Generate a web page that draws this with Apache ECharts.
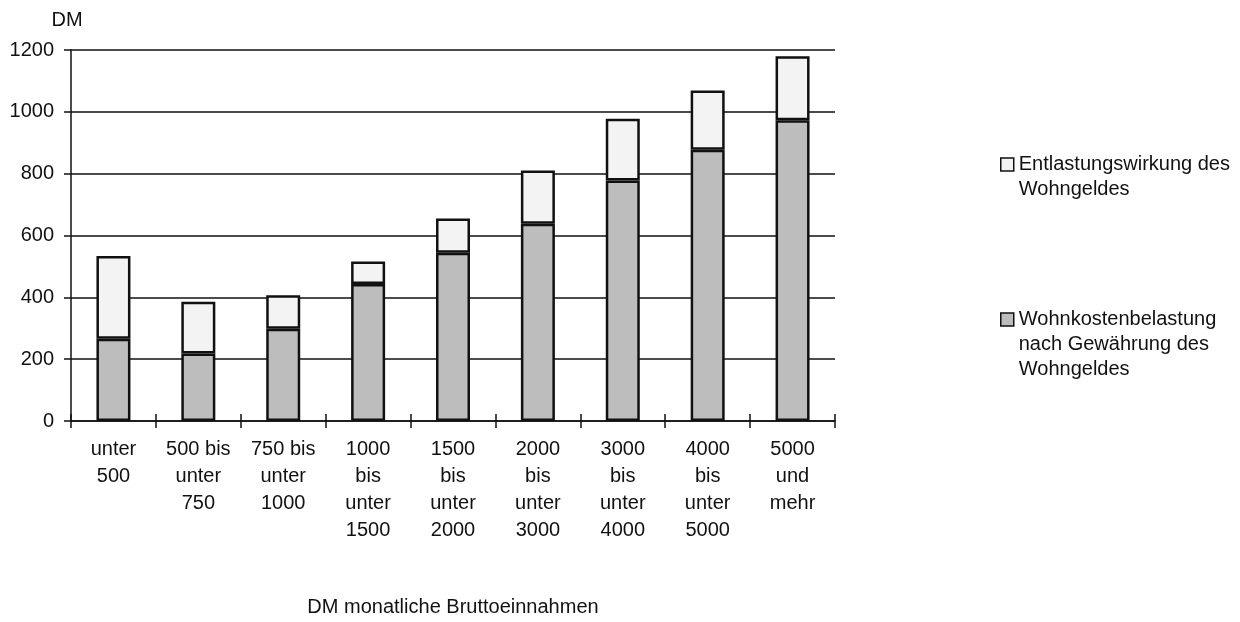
<!DOCTYPE html>
<html>
<head>
<meta charset="utf-8">
<script src="https://cdn.jsdelivr.net/npm/echarts@6/dist/echarts.min.js"></script>
<style>
  html, body { margin: 0; padding: 0; background: #fff; }
  #chart { width: 1240px; height: 622px; }
</style>
</head>
<body>
<div id="chart"></div>
<script>
const categories = [
  "unter\n500",
  "500 bis\nunter\n750",
  "750 bis\nunter\n1000",
  "1000\nbis\nunter\n1500",
  "1500\nbis\nunter\n2000",
  "2000\nbis\nunter\n3000",
  "3000\nbis\nunter\n4000",
  "4000\nbis\nunter\n5000",
  "5000\nund\nmehr"
];
const wohnkosten = [266, 218, 298, 443, 544, 638, 778, 877, 973];
const entlastung = [268, 168, 109, 73, 111, 172, 200, 192, 207];
const yTicks = [0, 200, 400, 600, 800, 1000, 1200];

const seriesNames = {
  entl: "Entlastungswirkung des\nWohngeldes",
  wohn: "Wohnkostenbelastung\nnach Gewährung des\nWohngeldes"
};

const FONT = "'Liberation Sans', Arial, sans-serif";
const INK = "#111";

const chart = echarts.init(document.getElementById('chart'), null, { renderer: 'canvas' });
chart.setOption({
  animation: false,
  backgroundColor: '#fff',
  textStyle: { fontFamily: FONT, color: INK },
  grid: { left: 71, right: 405, top: 50, bottom: 195 },
  legend: {
    orient: 'vertical',
    left: 1000,
    top: 127,
    padding: 0,
    itemGap: 55,
    itemWidth: 13,
    itemHeight: 13,
    icon: 'rect',
    data: [seriesNames.entl, seriesNames.wohn],
    formatter: function (name) {
      return name === seriesNames.entl ? '\n' + name : '\n\n' + name;
    },
    textStyle: { fontFamily: FONT, fontSize: 20, color: INK, lineHeight: 25 },
    itemStyle: { borderColor: INK, borderWidth: 1.5 }
  },
  xAxis: [{
    type: 'category',
    data: categories,
    name: 'DM monatliche Bruttoeinnahmen',
    nameLocation: 'middle',
    nameGap: 176,
    nameTextStyle: { fontFamily: FONT, fontSize: 20, color: INK, lineHeight: 20 },
    axisLine: { show: true, lineStyle: { color: INK, width: 1.5 } },
    axisTick: { show: true, inside: false, length: 7, lineStyle: { color: INK, width: 1.5 } },
    axisLabel: { interval: 0, margin: 15, fontFamily: FONT, fontSize: 20, color: INK, lineHeight: 27 },
    splitLine: { show: false }
  }, {
    type: 'category',
    data: categories,
    position: 'bottom',
    axisLine: { show: false },
    axisTick: { show: true, inside: true, length: 7, lineStyle: { color: INK, width: 1.5 } },
    axisLabel: { show: false },
    splitLine: { show: false }
  }],
  yAxis: {
    type: 'value',
    min: yTicks[0],
    max: yTicks[yTicks.length - 1],
    interval: yTicks[1] - yTicks[0],
    name: 'DM',
    nameLocation: 'end',
    nameGap: 20,
    nameTextStyle: { fontFamily: FONT, fontSize: 20, color: INK, align: 'center', padding: [0, 8, 0, 0] },
    axisLine: { show: true, lineStyle: { color: INK, width: 1.5 } },
    axisTick: { show: true, inside: false, length: 7, lineStyle: { color: INK, width: 1.5 } },
    axisLabel: { margin: 17, fontFamily: FONT, fontSize: 20, color: INK, formatter: function (v) { return String(v); } },
    splitLine: { show: true, lineStyle: { color: INK, width: 1.5 } }
  },
  series: [{
    name: seriesNames.wohn,
    type: 'bar',
    stack: 'total',
    barWidth: 34,
    data: wohnkosten,
    itemStyle: { color: '#bdbdbd', borderColor: INK, borderWidth: 2.5 }
  }, {
    name: seriesNames.entl,
    type: 'bar',
    stack: 'total',
    barWidth: 34,
    data: entlastung,
    itemStyle: { color: '#f3f3f3', borderColor: INK, borderWidth: 2.5 }
  }]
});
</script>
</body>
</html>
